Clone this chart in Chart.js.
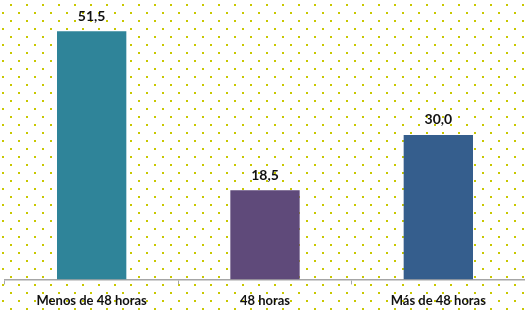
<!DOCTYPE html>
<html>
<head>
<meta charset="utf-8">
<script src="https://cdn.jsdelivr.net/npm/chart.js@4"></script>
<style>
  html, body { margin: 0; padding: 0; background: #fff; }
  canvas { display: block; }
</style>
</head>
<body>
<canvas id="chart" width="525" height="310"></canvas>
<script>
const categories = ['Menos de 48 horas', '48 horas', 'Más de 48 horas'];
const values = [51.5, 18.5, 30.0];
const barColors = ['#2f8499', '#5f4a7a', '#355e8d'];

// dotted background, like the Excel fill pattern
function makeDots() {
  const c = document.createElement('canvas');
  c.width = 16; c.height = 16;
  const g = c.getContext('2d');
  g.fillStyle = '#c8c800';
  g.fillRect(10, 4, 2, 2);
  g.fillRect(2, 12, 2, 2);
  return c;
}

const dotBackground = {
  id: 'dotBackground',
  beforeDraw(chart) {
    const ctx = chart.ctx;
    ctx.save();
    ctx.fillStyle = ctx.createPattern(makeDots(), 'repeat');
    ctx.fillRect(0, 0, chart.width, chart.height);
    ctx.restore();
  }
};

const valueLabels = {
  id: 'valueLabels',
  afterDatasetsDraw(chart) {
    const ctx = chart.ctx;
    const meta = chart.getDatasetMeta(0);
    ctx.save();
    ctx.font = "bold 14px Lato, sans-serif";
    ctx.fillStyle = '#111';
    ctx.textAlign = 'center';
    ctx.textBaseline = 'middle';
    meta.data.forEach((bar, i) => {
      ctx.fillText(values[i].toFixed(1).replace('.', ','), bar.x, bar.y - 15);
    });
    ctx.restore();
  }
};

new Chart(document.getElementById('chart'), {
  type: 'bar',
  data: {
    labels: categories,
    datasets: [{
      data: values,
      backgroundColor: barColors,
      barPercentage: 0.8,
      categoryPercentage: 0.5
    }]
  },
  options: {
    responsive: false,
    animation: false,
    layout: { padding: { left: 5, right: -3, top: 0, bottom: -8 } },
    plugins: {
      legend: { display: false },
      tooltip: { enabled: false }
    },
    scales: {
      x: {
        offset: true,
        grid: {
          offset: true,
          drawOnChartArea: false,
          drawTicks: true,
          tickLength: 5,
          color: '#a6a6a6'
        },
        border: { color: '#a6a6a6', width: 1.5 },
        ticks: {
          color: '#111',
          padding: 9,
          font: { family: 'Lato, sans-serif', size: 13, weight: 'bold' }
        }
      },
      y: {
        display: false,
        min: 0,
        max: 58
      }
    }
  },
  plugins: [dotBackground, valueLabels]
});
</script>
</body>
</html>
